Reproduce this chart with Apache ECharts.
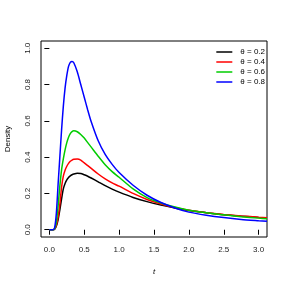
<!DOCTYPE html>
<html><head><meta charset="utf-8">
<script src="https://cdn.jsdelivr.net/npm/echarts@6/dist/echarts.min.js"></script>
<style>html,body{margin:0;padding:0;background:#fff}#c{width:288px;height:288px}</style>
</head><body><div id="c"></div>
<script>
var tValues = [0, 0.05, 0.075, 0.1, 0.125, 0.15, 0.175, 0.2, 0.225, 0.25, 0.275, 0.3, 0.325, 0.35, 0.4, 0.45, 0.5, 0.55, 0.6, 0.7, 0.8, 0.9, 1.0, 1.2, 1.4, 1.6, 1.8, 2.0, 2.25, 2.5, 2.75, 3.0, 3.12];
var theta02 = [0, 0, 0.003, 0.02, 0.055, 0.11, 0.17, 0.225, 0.255, 0.275, 0.288, 0.297, 0.303, 0.307, 0.311, 0.31, 0.303, 0.295, 0.285, 0.264, 0.243, 0.224, 0.207, 0.178, 0.155, 0.136, 0.12, 0.106, 0.094, 0.083, 0.075, 0.068, 0.065];
var theta04 = [0, 0, 0.004, 0.025, 0.07, 0.14, 0.235, 0.295, 0.328, 0.35, 0.366, 0.377, 0.384, 0.388, 0.39, 0.384, 0.368, 0.353, 0.338, 0.307, 0.28, 0.258, 0.24, 0.2, 0.167, 0.142, 0.122, 0.107, 0.094, 0.084, 0.076, 0.069, 0.066];
var theta06 = [0, 0, 0.005, 0.04, 0.13, 0.24, 0.33, 0.39, 0.44, 0.48, 0.51, 0.53, 0.541, 0.545, 0.54, 0.525, 0.505, 0.48, 0.455, 0.405, 0.358, 0.32, 0.289, 0.225, 0.177, 0.147, 0.125, 0.108, 0.093, 0.082, 0.072, 0.064, 0.06];
var theta08 = [0, 0, 0.01, 0.09, 0.25, 0.4, 0.55, 0.68, 0.78, 0.85, 0.9, 0.922, 0.927, 0.92, 0.87, 0.8, 0.73, 0.66, 0.595, 0.49, 0.415, 0.36, 0.315, 0.245, 0.19, 0.15, 0.12, 0.097, 0.08, 0.067, 0.057, 0.05, 0.047];
var seriesNames = ['\u03b8 = 0.2', '\u03b8 = 0.4', '\u03b8 = 0.6', '\u03b8 = 0.8'];
var seriesColors = ['#000000', '#ff0000', '#00cc00', '#0000ff'];
var xTicks = [0, 0.5, 1.0, 1.5, 2.0, 2.5, 3.0];
var yTicks = [0, 0.2, 0.4, 0.6, 0.8, 1.0];

var all = [theta02, theta04, theta06, theta08];
function pairs(v){ return tValues.map(function(t,i){ return [t, v[i]]; }); }
var chart = echarts.init(document.getElementById('c'), null, {renderer:'canvas'});
var FONT = 'Liberation Sans, Arial, sans-serif';
chart.setOption({
  animation: false,
  backgroundColor: '#fff',
  grid: {left: 41, right: 21, top: 41, bottom: 51, show: true, borderColor: '#000', borderWidth: 1, backgroundColor: 'transparent', containLabel: false, outerBoundsMode: 'none'},
  legend: {
    orient: 'vertical', right: 18, top: 43, itemWidth: 16, itemHeight: 1.5, itemGap: 2,
    icon: 'rect',
    textStyle: {fontFamily: FONT, fontSize: 8, color: '#000', lineHeight: 8, padding: [0,0,0,3]},
    data: seriesNames.map(function(n){ return {name: n, icon: 'rect'}; })
  },
  xAxis: {
    type: 'value', min: -0.12, max: 3.12,
    name: 't', nameLocation: 'middle', nameGap: 31,
    nameTextStyle: {fontFamily: FONT, fontSize: 8, fontStyle: 'italic', color: '#000'},
    axisLine: {show: false},
    axisTick: {show: true, inside: false, length: 5, customValues: xTicks, lineStyle: {color: '#000', width: 1}},
    axisLabel: {customValues: xTicks, fontFamily: FONT, fontSize: 8, color: '#222', margin: 9, formatter: function(v){ return v.toFixed(1); }},
    splitLine: {show: false}
  },
  yAxis: {
    type: 'value', min: -0.04, max: 1.04,
    name: 'Density', nameLocation: 'middle', nameGap: 29, nameRotate: 90,
    nameTextStyle: {fontFamily: FONT, fontSize: 8, color: '#000'},
    axisLine: {show: false},
    axisTick: {show: true, inside: false, length: 5, customValues: yTicks, lineStyle: {color: '#000', width: 1}},
    axisLabel: {customValues: yTicks, rotate: 90, fontFamily: FONT, fontSize: 8, color: '#222', margin: 9, formatter: function(v){ return v.toFixed(1); }},
    splitLine: {show: false}
  },
  series: all.map(function(v, i){
    return {
      name: seriesNames[i], type: 'line', data: pairs(v), showSymbol: false, symbol: 'none',
      smooth: 0.25, clip: true,
      lineStyle: {color: seriesColors[i], width: 1.5}, itemStyle: {color: seriesColors[i]}
    };
  })
});
</script></body></html>
